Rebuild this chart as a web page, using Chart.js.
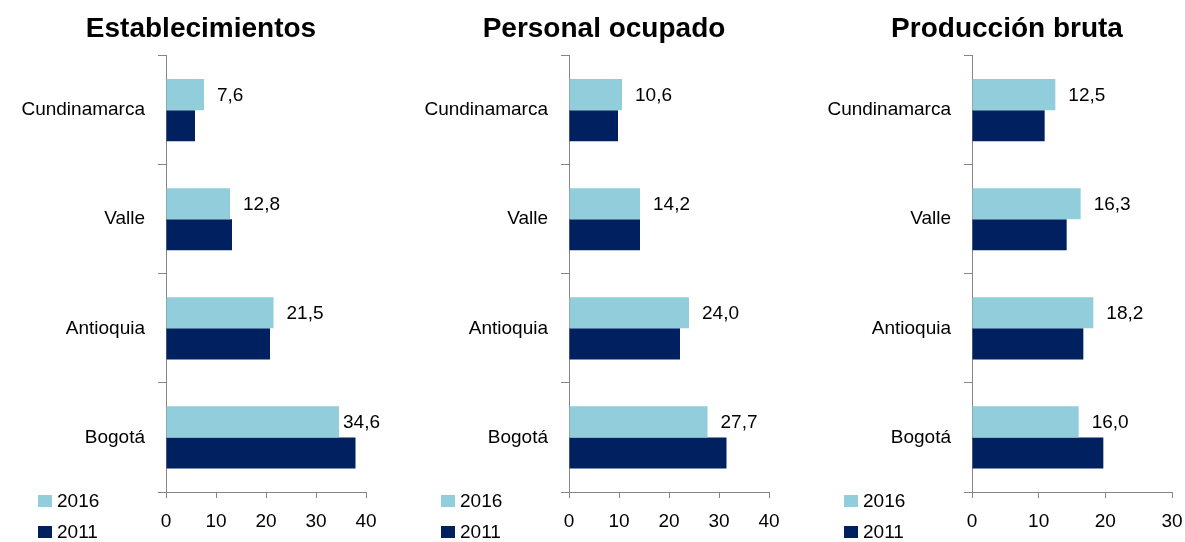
<!DOCTYPE html>
<html>
<head>
<meta charset="utf-8">
<script src="https://cdn.jsdelivr.net/npm/chart.js@4"></script>
<style>
  body { margin: 0; width: 1185px; height: 542px; overflow: hidden; background: #fff; font-family: "Liberation Sans", Arial, sans-serif; }
  .panel { position: absolute; top: 0; width: 403px; height: 542px; }
  .legend { position: absolute; left: 38px; top: 490px; font-size: 19px; color: #000; }
  .legend div { height: 31px; line-height: 22px; position: relative; padding-left: 19px; }
  .legend span { position: absolute; left: 0; top: 5px; width: 14px; height: 12px; }
</style>
</head>
<body>
<div class="panel" style="left:0"><canvas id="c1" width="403" height="542"></canvas><div class="legend" id="l1"></div></div>
<div class="panel" style="left:403px"><canvas id="c2" width="403" height="542"></canvas><div class="legend" id="l2"></div></div>
<div class="panel" style="left:806px"><canvas id="c3" width="403" height="542"></canvas><div class="legend" id="l3"></div></div>
<script>
// data (porcentajes)
var departamentos = ["Cundinamarca", "Valle", "Antioquia", "Bogotá"];
var series = ["2016", "2011"];
var colores = ["#92CDDC", "#002060"];

var titulos = ["Establecimientos", "Personal ocupado", "Producción bruta"];
var maximos = [40, 40, 30];

var estab2016 = [7.6, 12.8, 21.5, 34.6];
var estab2011 = [5.8, 13.2, 20.8, 37.9];
var personal2016 = [10.6, 14.2, 24.0, 27.7];
var personal2011 = [9.8, 14.2, 22.2, 31.5];
var produccion2016 = [12.5, 16.3, 18.2, 16.0];
var produccion2011 = [10.9, 14.2, 16.7, 19.7];

var valores = [
  [estab2016, estab2011],
  [personal2016, personal2011],
  [produccion2016, produccion2011]
];

var fuente = "'Liberation Sans', Arial, sans-serif";
var gris = "#868686";

// etiquetas de valor solo para 2016, a la derecha de la barra
var etiquetas = {
  id: 'etiquetas',
  afterDatasetsDraw: function(chart) {
    var ctx = chart.ctx;
    var meta = chart.getDatasetMeta(0);
    ctx.save();
    ctx.font = "19px " + fuente;
    ctx.fillStyle = "#000";
    ctx.textAlign = "left";
    ctx.textBaseline = "middle";
    meta.data.forEach(function(bar, i) {
      var v = chart.data.datasets[0].data[i];
      var x = Math.min(bar.x + 13, chart.chartArea.right - 23);
      ctx.fillText(v.toFixed(1).replace('.', ','), x, bar.y + 1);
    });
    ctx.restore();
  }
};

for (var p = 0; p < 3; p++) {
  new Chart(document.getElementById("c" + (p + 1)), {
    type: 'bar',
    data: {
      labels: departamentos,
      datasets: series.map(function(s, k) {
        return {
          label: s,
          data: valores[p][k],
          backgroundColor: colores[k],
          barPercentage: 1,
          categoryPercentage: 0.57
        };
      })
    },
    options: {
      indexAxis: 'y',
      responsive: false,
      animation: false,
      layout: { padding: { left: 0, right: 1, top: 0, bottom: 0 } },
      plugins: {
        legend: { display: false },
        tooltip: { enabled: false },
        title: {
          display: true,
          text: titulos[p],
          color: "#000",
          font: { family: fuente, size: 28, weight: 'bold' },
          padding: { top: 12, bottom: 10 }
        }
      },
      scales: {
        x: {
          min: 0,
          max: maximos[p],
          afterFit: function(axis) { axis.height = 50; },
          ticks: { stepSize: 10, color: "#000", padding: 12, font: { family: fuente, size: 19 } },
          grid: { drawOnChartArea: false, tickLength: 6, color: gris },
          border: { color: gris, width: 1 }
        },
        y: {
          afterFit: function(axis) { axis.width = 166; },
          ticks: { color: "#000", padding: 13, font: { family: fuente, size: 19 } },
          grid: { drawOnChartArea: false, offset: true, tickLength: 8, color: gris },
          border: { color: gris, width: 1 }
        },
        // espacio vacío a la derecha, para que el título quede centrado como en el original
        margen: {
          type: 'category',
          position: 'right',
          afterFit: function(axis) { axis.width = 36; },
          ticks: { display: false },
          grid: { display: false },
          border: { display: false }
        }
      }
    },
    plugins: [etiquetas]
  });

  var leg = document.getElementById("l" + (p + 1));
  series.forEach(function(s, k) {
    var d = document.createElement("div");
    d.innerHTML = '<span style="background:' + colores[k] + '"></span>' + s;
    leg.appendChild(d);
  });
}
</script>
</body>
</html>
